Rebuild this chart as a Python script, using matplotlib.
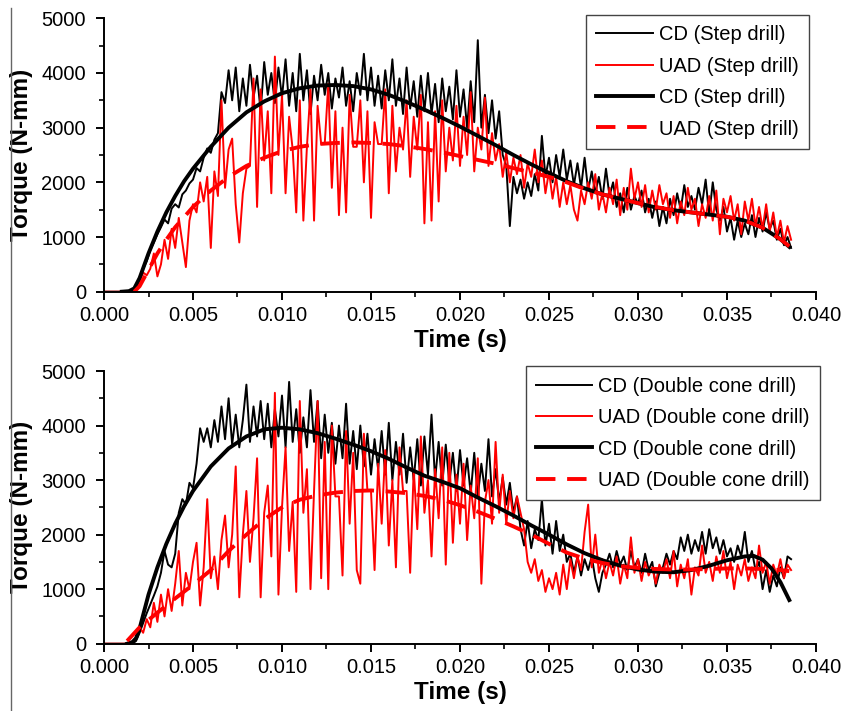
import numpy as np
import matplotlib
matplotlib.use("Agg")
import matplotlib.pyplot as plt
from matplotlib.lines import Line2D
from matplotlib.ticker import MultipleLocator

plt.rcParams["font.family"] = ["Liberation Sans", "DejaVu Sans"]

# ------------------------------------------------------------------
# Data (read off the figure). Raw torque signals sampled every 0.2 ms
# ------------------------------------------------------------------
dt = 0.0002

# Step drill, conventional drilling (raw)
step_cd = [
    0, 0, 0, 0, 0, 0, 0, 0, 20, 90,
    230, 420, 560, 760, 900, 1050, 1180, 1320, 1250, 1520,
    1600, 1540, 1780, 1850, 1980, 2050, 2260, 2200, 2450, 2620,
    2540, 2780, 2900, 3650, 3450, 4050, 3500, 4100, 3300, 3900,
    3400, 4150, 3550, 3950, 3300, 4200, 3600, 4000, 3450, 4100,
    3550, 4250, 3400, 4000, 3300, 4350, 3500, 4050, 3250, 3950,
    3500, 4150, 3600, 4000, 3350, 3900, 3550, 4100, 3400, 3850,
    3300, 4000, 3600, 4350, 3500, 4100, 3400, 3950, 3350, 4050,
    3500, 4250, 3400, 3900, 3250, 4100, 3350, 3850, 3200, 3950,
    3300, 4000, 3250, 3800, 3100, 3900, 3300, 3750, 3150, 4050,
    3200, 3700, 3000, 3850, 3100, 4600, 3000, 3600, 2900, 3500,
    2800, 3300, 2500, 2300, 1200, 2100, 1800, 2050, 1700, 2000,
    1750, 2150, 1850, 2850, 2100, 2450, 2000, 2500, 2100, 2600,
    2050, 2400, 1950, 2350, 1900, 2450, 1850, 2200, 1800, 2100,
    1700, 2250, 1750, 2000, 1550, 1800, 1450, 1900, 1500, 1750,
    1600, 1850, 1450, 1700, 1350, 1650, 1200, 1550, 1250, 1700,
    1400, 1800, 1500, 1950, 1550, 1750, 1500, 1900, 1600, 2050,
    1400, 2000, 1500, 1300, 1550, 1100, 1350, 950, 1300, 1000,
    1250, 1050, 1400, 1000, 1350, 1100, 1450, 1150, 1300, 950,
    1150, 850, 1000, 800,
]

# Step drill, ultrasonic assisted drilling (raw)
step_uad = [
    0, 0, 0, 0, 0, 0, 0, 0, 0, 60,
    180, 350, 300, 420, 700, 280, 500, 950, 600, 1150,
    800, 1350, 900, 450, 1300, 1600, 1450, 2000, 1650, 2100,
    800, 2200, 1750, 3500, 1900, 2600, 2800, 1600, 900, 1800,
    2250, 2300, 3900, 1550, 3700, 2400, 3300, 1800, 4300, 2500,
    3600, 1800, 3200, 2600, 1450, 3500, 1300, 2650, 3700, 1300,
    3400, 2700, 2700, 3800, 1900, 3300, 1400, 3000, 1450, 3600,
    2650, 2650, 3500, 2000, 3300, 1350, 3100, 2700, 2700, 3700,
    1800, 3400, 2200, 3000, 2600, 3500, 2100, 3200, 2600, 3600,
    1250, 3100, 1300, 3300, 1650, 3500, 2200, 3000, 2400, 3400,
    2300, 3200, 2500, 3650, 2200, 3000, 2600, 3550, 2300, 2900,
    2400, 2700, 2100, 2550, 2000, 2450, 2150, 2500, 1900, 2350,
    2100, 2600, 2000, 2400, 1800, 2200, 1700, 2100, 1550, 2000,
    1600, 1950, 1500, 1300, 1850, 1600, 2000, 1700, 2150, 1500,
    1800, 1450, 1900, 1600, 2050, 1400, 1900, 1500, 2250, 1700,
    2000, 1550, 1950, 1450, 1850, 1500, 1950, 1600, 1800, 1350,
    1750, 1250, 1650, 1400, 1900, 1500, 1700, 1200, 1600, 1350,
    1750, 1300, 1850, 1050, 1700, 1450, 1750, 1300, 1600, 1050,
    1650, 1300, 1700, 1200, 1550, 1150, 1600, 1100, 1450, 1000,
    1300, 900, 1200, 950,
]

# Double cone drill, conventional drilling (raw)
cone_cd = [
    0, 0, 0, 0, 0, 0, 0, 0, 0, 50,
    200, 380, 560, 720, 880, 1050, 1300, 1700, 1450, 1400,
    1650, 2400, 2650, 2550, 2950, 2850, 3300, 3950, 3700, 3950,
    3600, 4100, 3700, 4350, 3750, 4500, 3650, 4200, 3600, 4100,
    4750, 3700, 4350, 3800, 4450, 3750, 4400, 3600, 4300, 3800,
    4550, 3600, 4800, 3700, 4300, 3500, 4150, 3600, 4650, 3700,
    4450, 3400, 4200, 3500, 4050, 3300, 4000, 3400, 4400, 3300,
    3900, 3200, 4000, 3250, 3850, 3100, 3750, 3200, 3900, 3100,
    4050, 3000, 3700, 3100, 3850, 2950, 3600, 3000, 3750, 2900,
    3800, 3100, 4200, 3000, 3700, 2900, 3650, 2950, 3500, 2800,
    3550, 2900, 3400, 2750, 3500, 2700, 3300, 2800, 3750, 2700,
    3200, 2600, 3050, 2550, 2950, 2400, 2700, 2100, 1800, 2250,
    1750, 2100, 1900, 2650, 1800, 2200, 1650, 2250, 1700, 2000,
    1500, 1650, 1300, 1600, 1250, 1550, 1350, 1600, 1200, 950,
    1300, 1450, 1650, 1400, 1700, 1450, 1600, 1350, 1700, 1400,
    1550, 1300, 1650, 1350, 1500, 1050, 1300, 1400, 1650, 1450,
    1700, 1550, 1950, 1700, 2000, 1650, 1900, 1700, 2050, 1650,
    2100, 1750, 1950, 1650, 1900, 1600, 1750, 1500, 1800, 1600,
    2050, 1500, 1700, 1350, 1500, 1000, 1350, 950, 1250, 1050,
    1400, 1200, 1600, 1550,
]

# Double cone drill, ultrasonic assisted drilling (raw)
cone_uad = [
    0, 0, 0, 0, 0, 0, 0, 0, 30, 120,
    300, 200, 450, 300, 750, 400, 900, 500, 1000, 600,
    1100, 1700, 700, 1300, 1000, 1500, 1850, 700, 1400, 2650,
    1200, 1600, 1000, 1900, 2350, 1400, 2000, 3250, 850, 2000,
    2800, 1500, 2300, 3400, 850, 2400, 2900, 1600, 4600, 900,
    2500, 3600, 1700, 2600, 950, 4450, 2400, 3200, 1000, 2800,
    4450, 1200, 3700, 1000, 4000, 2700, 2700, 1250, 3900, 2200,
    3500, 1350, 1100, 3850, 2800, 2800, 1350, 3300, 2200, 3550,
    1800, 3000, 1400, 3600, 2800, 2800, 1300, 3200, 2100, 3800,
    2400, 3000, 1600, 3200, 2300, 3600, 1450, 3500, 1850, 3100,
    2200, 3300, 1900, 2900, 2300, 3400, 1100, 2600, 3000, 2200,
    3700, 2400, 3100, 2200, 2800, 2300, 2700, 2400, 2100, 1500,
    1300, 1550, 1150, 1350, 950, 1200, 1000, 1300, 900, 1450,
    1000, 1550, 1200, 1600, 1350, 2050, 2550, 1400, 2000, 1300,
    1550, 1200, 1500, 1250, 1600, 1100, 1450, 1200, 1950, 1300,
    1550, 1150, 1500, 1250, 1400, 1100, 1450, 1300, 1550, 1200,
    1700, 1050, 1450, 1200, 1550, 900, 1400, 1250, 1800, 1300,
    1500, 1150, 1600, 1300, 1700, 1200, 1500, 1000, 1450, 1250,
    1550, 1150, 1400, 1200, 1800, 1300, 1500, 1100, 1450, 1250,
    1550, 1200, 1450, 1350,
]

# Fitted (smoothed) curves
step_cd_fit_t = [0.0010, 0.0014, 0.0017, 0.0020, 0.0025, 0.0030, 0.0035, 0.0040,
                 0.0045, 0.0050, 0.0060, 0.0070, 0.0080, 0.0090, 0.0100, 0.0110,
                 0.0120, 0.0130, 0.0140, 0.0150, 0.0160, 0.0170, 0.0180, 0.0190,
                 0.0200, 0.0210, 0.0220, 0.0230, 0.0240, 0.0250, 0.0260, 0.0270,
                 0.0280, 0.0290, 0.0300, 0.0310, 0.0320, 0.0330, 0.0340, 0.0350,
                 0.0360, 0.0370, 0.0380, 0.0385]
step_cd_fit = [0, 10, 60, 250, 700, 1100, 1450, 1750,
               2020, 2250, 2650, 3000, 3280, 3480, 3630, 3720,
               3770, 3780, 3760, 3700, 3600, 3470, 3330, 3180,
               3020, 2850, 2680, 2500, 2330, 2170, 2020, 1890,
               1780, 1700, 1620, 1540, 1490, 1450, 1410, 1370,
               1300, 1170, 960, 820]

step_uad_fit_t = [0.0017, 0.0020, 0.0025, 0.0030, 0.0035, 0.0040, 0.0050, 0.0060,
                  0.0070, 0.0080, 0.0090, 0.0100, 0.0110, 0.0120, 0.0130, 0.0140,
                  0.0150, 0.0160, 0.0170, 0.0180, 0.0190, 0.0200, 0.0210, 0.0220,
                  0.0230, 0.0240, 0.0250, 0.0260, 0.0270, 0.0280, 0.0290, 0.0300,
                  0.0310, 0.0320, 0.0330, 0.0340, 0.0350, 0.0360, 0.0370, 0.0380,
                  0.0385]
step_uad_fit = [0, 100, 400, 700, 950, 1180, 1550, 1850,
                2100, 2300, 2450, 2570, 2650, 2700, 2720, 2730,
                2720, 2700, 2660, 2610, 2550, 2480, 2410, 2340,
                2260, 2180, 2100, 2000, 1880, 1780, 1700, 1620,
                1550, 1490, 1450, 1410, 1370, 1300, 1170, 960,
                830]

cone_cd_fit_t = [0.0013, 0.0016, 0.0018, 0.0020, 0.0025, 0.0030, 0.0035, 0.0040,
                 0.0045, 0.0050, 0.0060, 0.0070, 0.0080, 0.0090, 0.0100, 0.0110,
                 0.0120, 0.0130, 0.0140, 0.0150, 0.0160, 0.0170, 0.0180, 0.0190,
                 0.0200, 0.0210, 0.0220, 0.0230, 0.0240, 0.0250, 0.0260, 0.0270,
                 0.0280, 0.0290, 0.0300, 0.0310, 0.0320, 0.0330, 0.0340, 0.0350,
                 0.0360, 0.0365, 0.0370, 0.0375, 0.0380, 0.0385]
cone_cd_fit = [0, 30, 100, 280, 900, 1400, 1830, 2200,
               2520, 2800, 3250, 3580, 3800, 3930, 3960, 3930,
               3860, 3760, 3650, 3530, 3390, 3230, 3080, 2970,
               2850, 2680, 2520, 2350, 2170, 2000, 1820, 1660,
               1530, 1430, 1360, 1320, 1310, 1350, 1430, 1530,
               1600, 1610, 1540, 1380, 1130, 800]

cone_uad_fit_t = [0.0013, 0.0020, 0.0030, 0.0040, 0.0050, 0.0060, 0.0070, 0.0080,
                  0.0090, 0.0100, 0.0110, 0.0120, 0.0130, 0.0140, 0.0150, 0.0160,
                  0.0170, 0.0180, 0.0190, 0.0200, 0.0210, 0.0220, 0.0230, 0.0240,
                  0.0250, 0.0260, 0.0270, 0.0280, 0.0290, 0.0300, 0.0310, 0.0320,
                  0.0330, 0.0340, 0.0350, 0.0360, 0.0370, 0.0380, 0.0385]
cone_uad_fit = [50, 300, 570, 830, 1080, 1350, 1700, 2000,
                2280, 2500, 2640, 2720, 2770, 2800, 2810, 2790,
                2760, 2710, 2640, 2540, 2420, 2290, 2150, 2000,
                1830, 1670, 1560, 1480, 1420, 1390, 1370, 1360,
                1360, 1370, 1380, 1380, 1370, 1350, 1330]

x_ticks = [0.000, 0.005, 0.010, 0.015, 0.020, 0.025, 0.030, 0.035, 0.040]
y_ticks = [0, 1000, 2000, 3000, 4000, 5000]

panels = [
    ("Step drill", step_cd, step_uad, (step_cd_fit_t, step_cd_fit), (step_uad_fit_t, step_uad_fit)),
    ("Double cone drill", cone_cd, cone_uad, (cone_cd_fit_t, cone_cd_fit), (cone_uad_fit_t, cone_uad_fit)),
]

# ------------------------------------------------------------------
# Figure
# ------------------------------------------------------------------
fig = plt.figure(figsize=(8.6, 7.11), dpi=100)
ax_rects = [
    [104 / 860, 1 - 291.7 / 711, 712 / 860, 273.4 / 711],
    [104 / 860, 1 - 643.7 / 711, 712 / 860, 272.7 / 711],
]
legend_anchor = [(808.5 / 860, 1 - 15 / 711), (820 / 860, 1 - 366.5 / 711)]

for rect, anchor, (name, cd, uad, cd_fit, uad_fit) in zip(ax_rects, legend_anchor, panels):
    ax = fig.add_axes(rect)
    t = np.arange(len(cd)) * dt

    ax.plot(t, cd, color="black", lw=1.4, label=f"CD ({name})")
    ax.plot(t, uad, color="#ff0000", lw=1.4, label=f"UAD ({name})")
    ax.plot(cd_fit[0], cd_fit[1], color="black", lw=2.8, label=f"CD ({name})")
    ax.plot(uad_fit[0], uad_fit[1], color="#ff0000", lw=2.8, dashes=(5, 3),
            label=f"UAD ({name})")

    ax.set_xlim(0, 0.040)
    ax.set_ylim(0, 5000)
    ax.set_xticks(x_ticks)
    ax.set_xticklabels([f"{v:.3f}" for v in x_ticks])
    ax.set_yticks(y_ticks)
    ax.xaxis.set_minor_locator(MultipleLocator(0.0025))
    ax.yaxis.set_minor_locator(MultipleLocator(500))

    for side in ("top", "right"):
        ax.spines[side].set_visible(False)
    for side in ("left", "bottom"):
        ax.spines[side].set_linewidth(1.4)

    ax.tick_params(which="major", direction="out", length=6, width=1.4,
                   labelsize=14.5)
    ax.tick_params(which="minor", direction="out", length=3.5, width=1.2)
    ax.tick_params(axis="x", which="major", pad=4)
    ax.tick_params(axis="y", which="major", pad=7)

    ax.set_xlabel("Time (s)", fontsize=17.5, fontweight="bold", labelpad=3)
    ax.set_ylabel("Torque (N-mm)", fontsize=17.5, fontweight="bold")
    ax.yaxis.set_label_coords(-0.1, 0.5)

    leg = ax.legend(loc="upper right", bbox_to_anchor=anchor,
                    bbox_transform=fig.transFigure, fontsize=14.5,
                    frameon=True, fancybox=False, framealpha=1,
                    edgecolor="#444444", handlelength=2.8, handletextpad=0.3,
                    labelspacing=0.62, borderpad=0.5, borderaxespad=0)
    leg.get_frame().set_linewidth(1.0)

# thin border line at the left edge of the original picture
fig.add_artist(Line2D([11 / 860, 11 / 860], [0, 1 - 8 / 711],
                      transform=fig.transFigure, color="#666666", lw=1.0))

fig.savefig("out.png", dpi=100)
